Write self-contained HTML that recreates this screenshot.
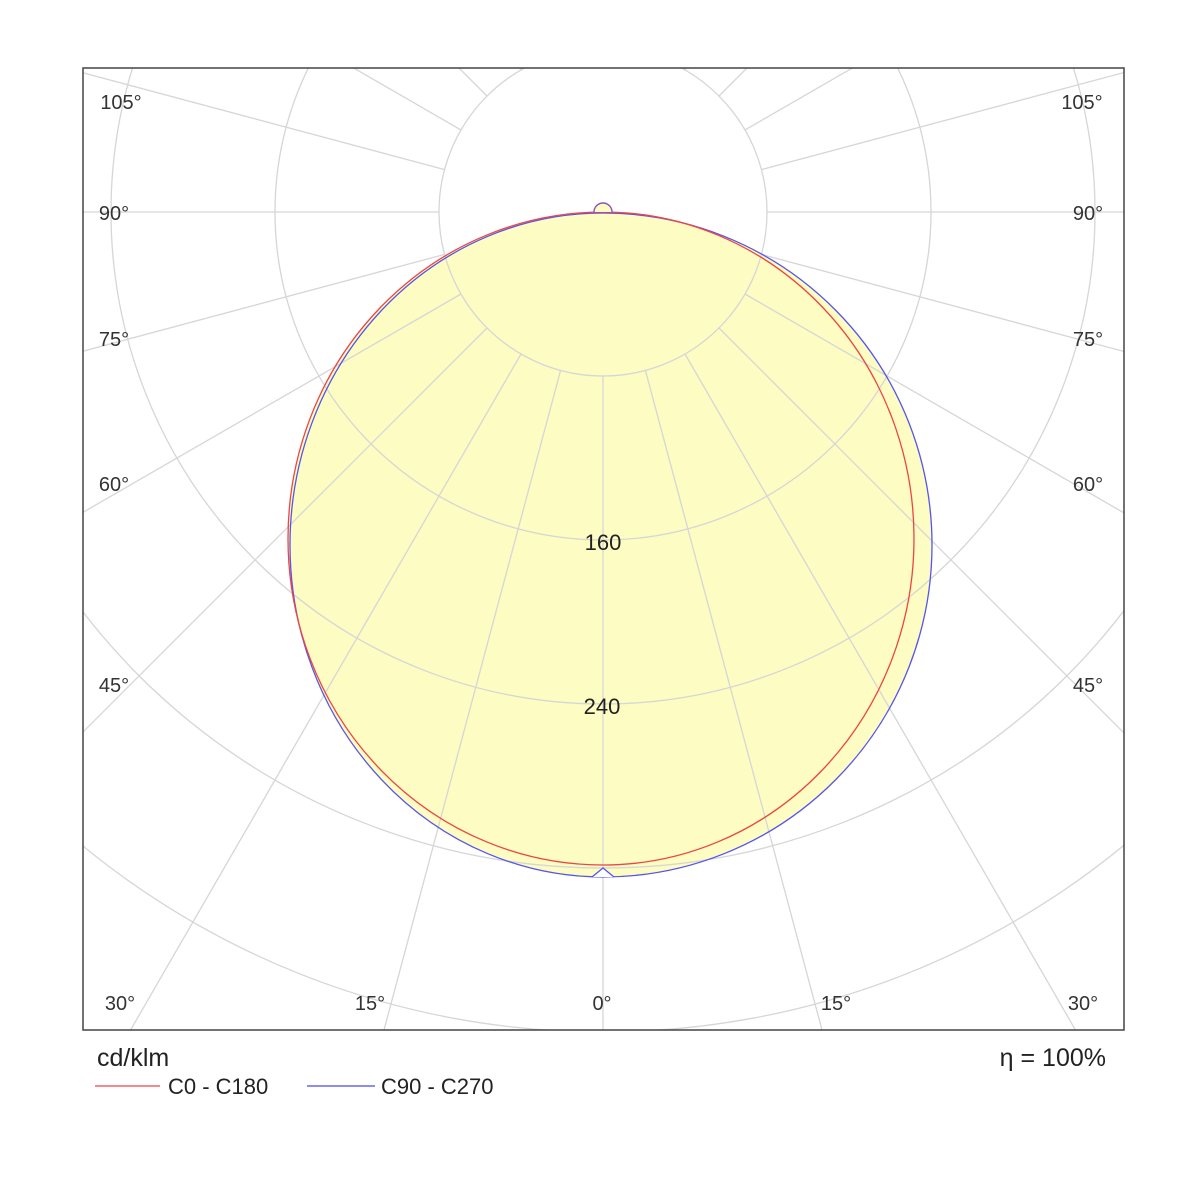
<!DOCTYPE html>
<html><head><style>html,body{margin:0;background:#fff;width:1200px;height:1200px;overflow:hidden}svg{display:block}</style></head><body>
<svg width="1200" height="1200" viewBox="0 0 1200 1200" xmlns="http://www.w3.org/2000/svg" font-family="Liberation Sans, sans-serif">
<defs><clipPath id="c"><rect x="83" y="68" width="1041" height="962"/></clipPath></defs>
<rect width="1200" height="1200" fill="#fff"/>
<g clip-path="url(#c)">
<path d="M603,213 A329 332 0 0 1 603,877 A313 332 0 0 1 603,213Z" fill="#fdfcc2"/>
<path d="M603,212 A311 326.5 0 0 1 603,865 A315 326.5 0 0 1 603,212Z" fill="#fdfcc2"/>
<g stroke="#d6d6d6" stroke-width="1.3" fill="none">
<circle cx="603" cy="212" r="164"/><circle cx="603" cy="212" r="328"/><circle cx="603" cy="212" r="492"/><circle cx="603" cy="212" r="656"/><circle cx="603" cy="212" r="820"/>
<path d="M603,376L603,1612M645.4,370.4L965,1564M685,354L1303,1424M719,328L1593,1202M745,294L1815,912M761.4,254.4L1955,574M767,212L2003,212M761.4,169.6L1955,-150M745,130L1815,-488M719,96L1593,-778M685,70L1303,-1000M645.4,53.6L965,-1140"/>
<path d="M560.6,370.4L241,1564M521,354L-97,1424M487,328L-387,1202M461,294L-609,912M444.6,254.4L-749,574M439,212L-797,212M444.6,169.6L-749,-150M461,130L-609,-488M487,96L-387,-778M521,70L-97,-1000M560.6,53.6L241,-1140"/>
</g>
<path d="M603,213 A329 332 0 0 1 603,877 A313 332 0 0 1 603,213Z" fill="none" stroke="#5555ee" stroke-width="1.3"/>
<path d="M592,877 L603,868 L614,877" fill="#fff" stroke="#5555ee" stroke-width="1.3"/>
<path d="M603,212 A311 326.5 0 0 1 603,865 A315 326.5 0 0 1 603,212Z" fill="none" stroke="#ee4444" stroke-width="1.3"/>
<path d="M594,212 A9 9 0 1 1 612,212" fill="#fdfcc2" stroke="#8855bb" stroke-width="1.4"/>
</g>
<rect x="83" y="68" width="1041" height="962" fill="none" stroke="#444" stroke-width="1.5"/>
<g font-size="22" fill="#222" text-anchor="middle">
<text x="603" y="550">160</text><text x="602" y="714">240</text>
</g>
<g font-size="20" fill="#333" text-anchor="middle">
<text x="602" y="1010">0°</text><text x="370" y="1010">15°</text><text x="836" y="1010">15°</text>
<text x="120" y="1010">30°</text><text x="1083" y="1010">30°</text>
<text x="114" y="692">45°</text><text x="1088" y="692">45°</text>
<text x="114" y="491">60°</text><text x="1088" y="491">60°</text>
<text x="114" y="346">75°</text><text x="1088" y="346">75°</text>
<text x="114" y="220">90°</text><text x="1088" y="220">90°</text>
<text x="121" y="109">105°</text><text x="1082" y="109">105°</text>
</g>
<text x="97" y="1066" font-size="25" fill="#222">cd/klm</text>
<text x="1106" y="1066" font-size="25" fill="#222" text-anchor="end">η = 100%</text>
<line x1="95" y1="1086" x2="160" y2="1086" stroke="#ee6666" stroke-width="1.5"/>
<text x="168" y="1094" font-size="22" fill="#222">C0 - C180</text>
<line x1="307" y1="1086" x2="375" y2="1086" stroke="#6666ee" stroke-width="1.5"/>
<text x="381" y="1094" font-size="22" fill="#222">C90 - C270</text>
</svg>
</body></html>
